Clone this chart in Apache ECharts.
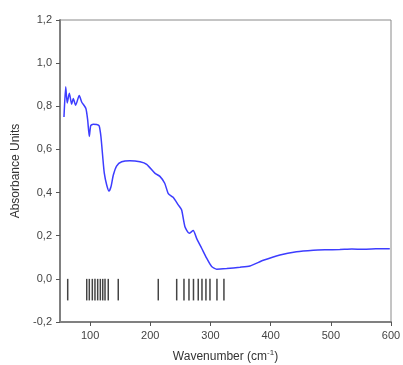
<!DOCTYPE html>
<html>
<head>
<meta charset="utf-8">
<script src="https://cdn.jsdelivr.net/npm/echarts@6/dist/echarts.min.js"></script>
<style>
  html, body { margin: 0; padding: 0; background: #fff; }
  #chart { width: 403px; height: 365px; }
</style>
</head>
<body>
<div id="chart"></div>
<script>
// 吸收光谱曲线（波数 cm-1，吸光度）
const wavenumber = [56.6, 59.5, 62, 65.5, 69.4, 72, 76, 82, 86, 93, 96, 98.7, 101, 105, 111, 115, 118, 121, 123.6, 127.6, 131.4, 134.7, 138.5, 144, 152.5, 166, 183, 194, 208, 216, 224, 230, 238, 246.5, 252, 257.6, 264.7, 271.4, 277, 285.4, 293.7, 302, 310.3, 327, 349, 365.6, 387.8, 415.4, 443, 471, 490, 515, 535, 554, 575, 598]
const absorbance = [0.75, 0.89, 0.815, 0.86, 0.81, 0.836, 0.805, 0.85, 0.82, 0.79, 0.736, 0.66, 0.71, 0.717, 0.716, 0.71, 0.66, 0.566, 0.49, 0.435, 0.407, 0.427, 0.48, 0.523, 0.543, 0.548, 0.543, 0.531, 0.489, 0.475, 0.443, 0.395, 0.378, 0.343, 0.32, 0.242, 0.211, 0.224, 0.188, 0.142, 0.096, 0.057, 0.045, 0.048, 0.054, 0.06, 0.086, 0.111, 0.126, 0.133, 0.135, 0.136, 0.138, 0.137, 0.139, 0.14]

// 计算振动模式位置（竖线）
const stickPositions = [62.8, 94.4, 98.7, 103.7, 108.1, 112.6, 117, 121, 124.8, 130.2, 146.8, 213.3, 243.9, 256, 264.3, 271.8, 279.7, 285.9, 292.5, 299.2, 310.8, 322.4]
const stickTop = 0.0
const stickBottom = -0.1

const xTicks = [100, 200, 300, 400, 500, 600]

const chart = echarts.init(document.getElementById('chart'))
const font = 'Liberation Sans, Arial, sans-serif'

chart.setOption({
  animation: false,
  grid: {
    left: 60, right: 12, top: 20, bottom: 43,
    outerBoundsMode: 'none',
    show: true, borderColor: '#8a8a8a', borderWidth: 1
  },
  xAxis: {
    type: 'value', min: 50, max: 600,
    name: '{a|Wavenumber (cm}{s|-1}{a|)}',
    nameLocation: 'middle', nameGap: 27,
    nameTextStyle: {
      rich: {
        a: { fontFamily: font, fontSize: 12, color: '#333', lineHeight: 14, verticalAlign: 'bottom' },
        s: { fontFamily: font, fontSize: 8, color: '#333', lineHeight: 14, verticalAlign: 'top' }
      }
    },
    axisLine: { onZero: false, lineStyle: { color: '#808080', width: 2 } },
    axisTick: { length: 4, lineStyle: { color: '#555' }, customValues: xTicks },
    axisLabel: { customValues: xTicks, fontFamily: font, fontSize: 11, color: '#444', margin: 8 },
    splitLine: { show: false }
  },
  yAxis: {
    type: 'value', min: -0.2, max: 1.2, interval: 0.2,
    name: 'Absorbance Units', nameLocation: 'middle', nameGap: 33,
    nameTextStyle: { fontFamily: font, fontSize: 12, color: '#333' },
    axisLine: { show: true, onZero: false, lineStyle: { color: '#808080', width: 2 } },
    axisTick: { show: true, length: 4, lineStyle: { color: '#555' } },
    axisLabel: {
      fontFamily: font, fontSize: 11, color: '#444', margin: 8,
      formatter: v => v.toFixed(1).replace('.', ',')
    },
    splitLine: { show: false }
  },
  series: [
    {
      type: 'line',
      data: wavenumber.map((x, i) => [x, absorbance[i]]),
      showSymbol: false,
      smooth: 0.2,
      lineStyle: { color: '#3d3dff', width: 1.5 }
    },
    {
      type: 'custom',
      data: stickPositions.map(x => [x]),
      renderItem: (params, api) => {
        const p0 = api.coord([api.value(0), stickTop])
        const p1 = api.coord([api.value(0), stickBottom])
        return {
          type: 'line',
          shape: { x1: p0[0], y1: p0[1], x2: p1[0], y2: p1[1] },
          style: { stroke: '#444', lineWidth: 1.5 }
        }
      }
    }
  ]
})
</script>
</body>
</html>
